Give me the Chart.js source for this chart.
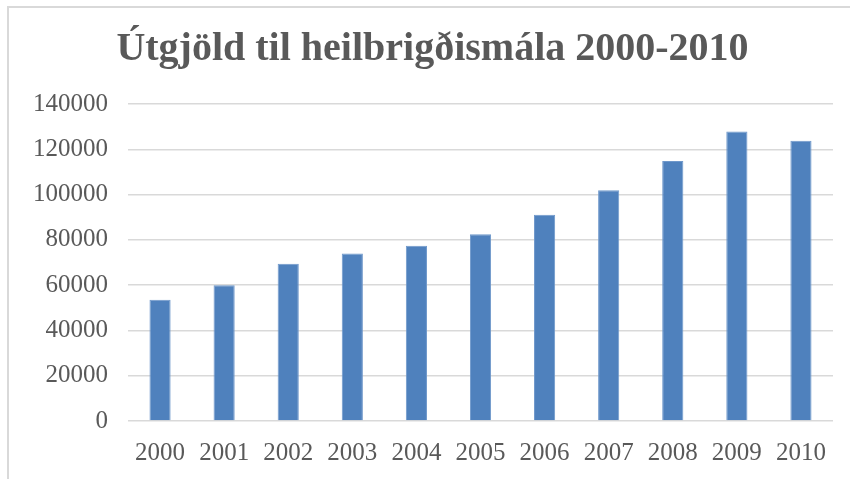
<!DOCTYPE html>
<html>
<head>
<meta charset="utf-8">
<script src="https://cdn.jsdelivr.net/npm/chart.js@4"></script>
<style>
  html, body { margin: 0; padding: 0; background: #fff; overflow: hidden; }
  #frame { position: absolute; left: 7px; top: 6px; width: 900px; height: 600px; border: 2px solid #d9d9d9; }
  #wrap { position: absolute; left: 0; top: 0; width: 850px; height: 479px; }
</style>
</head>
<body>
<div id="frame"></div>
<div id="wrap"><canvas id="chart" width="850" height="479"></canvas></div>
<script>
const chartTitle = 'Útgjöld til heilbrigðismála 2000-2010';
const years = ['2000', '2001', '2002', '2003', '2004', '2005', '2006', '2007', '2008', '2009', '2010'];
const spending = [53600, 60000, 69500, 74000, 77400, 82500, 91100, 101900, 114800, 127800, 123800];
const yTickLabels = ['0', '20000', '40000', '60000', '80000', '100000', '120000', '140000'];

const gray = '#595959';

new Chart(document.getElementById('chart'), {
    type: 'bar',
    data: {
        labels: years,
        datasets: [{
            data: spending,
            backgroundColor: '#4f81bd',
            borderColor: '#6f98cb',
            borderWidth: 1,
            categoryPercentage: 1,
            barPercentage: 0.33
        }]
    },
    options: {
        responsive: false,
        animation: false,
        layout: { padding: { left: 32, right: 17, top: 0, bottom: 0 } },
        plugins: {
            legend: { display: false },
            tooltip: { enabled: false },
            title: {
                display: true,
                text: chartTitle,
                color: gray,
                font: { family: 'Liberation Serif', size: 40, weight: 'bold', lineHeight: 1.2 },
                padding: { top: 26, bottom: 30 }
            }
        },
        scales: {
            x: {
                grid: { display: false, drawTicks: false },
                border: { display: false },
                ticks: { color: gray, font: { family: 'Liberation Serif', size: 25 }, padding: 17, maxRotation: 0 },
                afterFit: (scale) => { scale.height = 58; }
            },
            y: {
                min: 0,
                max: 140000,
                grid: { color: '#d9d9d9', lineWidth: 1.5, drawTicks: false },
                border: { display: false },
                ticks: {
                    stepSize: 20000,
                    color: gray,
                    font: { family: 'Liberation Serif', size: 25 },
                    padding: 20,
                    callback: (v, i) => yTickLabels[i]
                },
                afterFit: (scale) => { scale.width = 96; }
            }
        }
    }
});
</script>
</body>
</html>
